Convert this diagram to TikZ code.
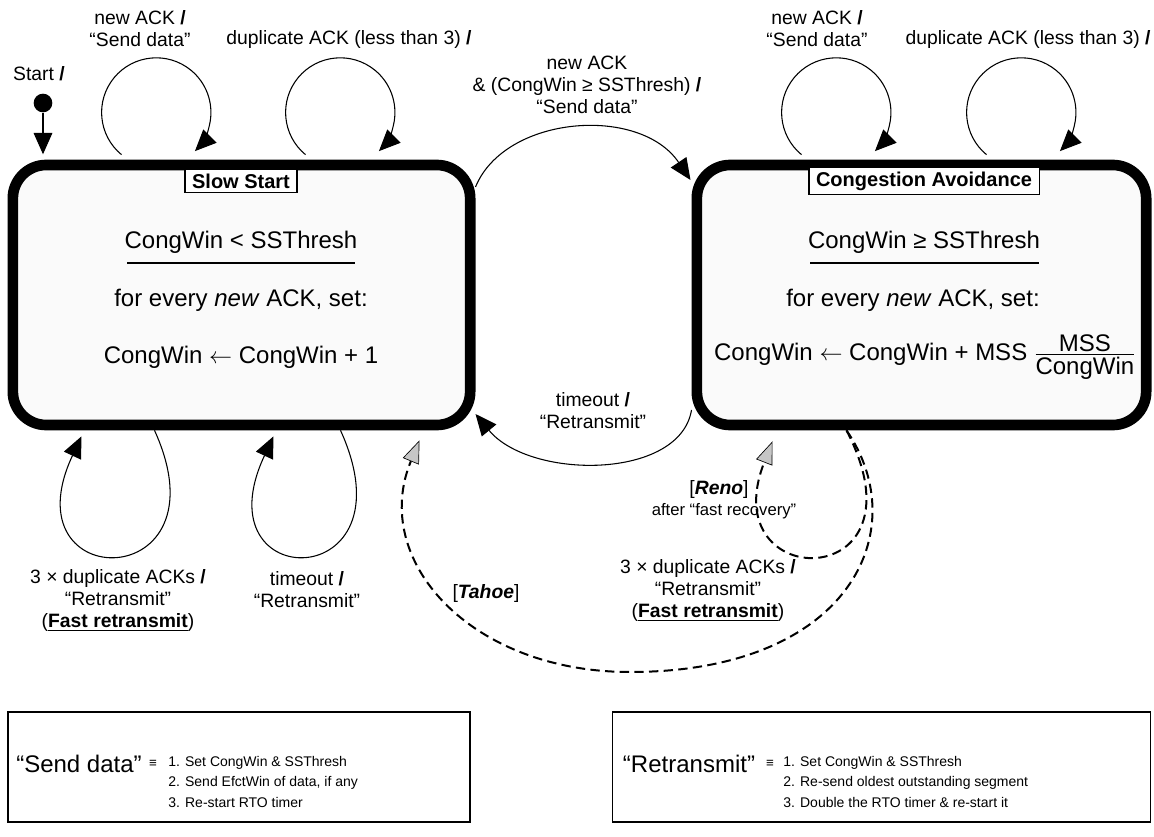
\documentclass[tikz,border=0pt]{standalone}
\usepackage{amsmath}
\usepackage{fontspec}
\setmainfont{Liberation Sans}
\usetikzlibrary{arrows.meta}

\begin{document}
\begin{tikzpicture}[x=0.75pt,y=-0.75pt,
  state/.style={draw,line width=8pt,rounded corners=25pt,fill=gray!4,minimum height=195pt,inner sep=0pt},
  title/.style={draw,fill=white,line width=1.2pt,inner xsep=5.5pt,inner ysep=3pt,font=\fontsize{15}{17}\selectfont\bfseries},
  big/.style={inner sep=1pt,font=\fontsize{18}{21}\selectfont},
  lbl/.style={align=center,inner sep=1pt,font=\fontsize{14.5}{16.5}\selectfont},
  trans/.style={line width=0.8pt,-{Triangle[length=16pt,width=14pt]}},
  alt/.style={line width=1.5pt,dash pattern=on 7pt off 4pt,-{Triangle[length=17pt,width=13pt,fill=gray!45,line width=0.5pt]}},
  note/.style={draw,line width=0.8pt,minimum height=82.5pt},
  small/.style={align=left,inner sep=0pt,font=\fontsize{10.5}{15.4}\selectfont}]
\useasboundingbox (0,0) rectangle (1154,837);

\node[state,minimum width=343pt] (ss) at (241.5,295) {};
\node[state,minimum width=337pt] (ca) at (921.5,295) {};

\node[title] (ssname) at (241,181) {Slow Start};
\node[big] (sscond) at (241,242) {CongWin < SSThresh};
\draw[line width=1.5pt] (127,263) -- (355,263);
\node[big] (ssfor) at (241,300) {for every \textit{new} ACK, set:};
\node[big] (ssupd) at (241,357) {CongWin $\leftarrow$ CongWin + 1};

\node[title] (caname) at (924,181) {Congestion Avoidance};
\node[big] (cacond) at (924,242) {CongWin ≥ SSThresh};
\draw[line width=1.5pt] (810,263) -- (1039,263);
\node[big] (cafor) at (913,300) {for every \textit{new} ACK, set:};
\node[big] (caupd) at (925,357) {CongWin $\leftarrow$ CongWin + MSS $\genfrac{}{}{1.2pt}{1}{\mbox{MSS}}{\mbox{CongWin}}$};

\node[circle,fill,inner sep=0pt,minimum size=14pt] (start) at (43,103) {};
\node[lbl] (startlbl) at (39,74) {Start \textbf{/}};
\draw[trans,shorten >=4pt] (start) -- (start |- ss.north);

\draw[trans] ([shift={(-120,-5)}]ss.north) arc[start angle=230.5,end angle=-45,radius=41pt];
\draw[trans] ([shift={(64,-5)}]ss.north) arc[start angle=230.5,end angle=-45,radius=41pt];
\draw[trans] ([shift={(-120,-5)}]ca.north) arc[start angle=230.5,end angle=-45,radius=41pt];
\draw[trans] ([shift={(65,-5)}]ca.north) arc[start angle=230.5,end angle=-45,radius=41pt];
\node[lbl] (l1lbl) at (140,29) {new ACK \textbf{/}\\“Send data”};
\node[lbl] (l2lbl) at (349,40) {duplicate ACK (less than 3) \textbf{/}};
\node[lbl] (r1lbl) at (817,29) {new ACK \textbf{/}\\“Send data”};
\node[lbl] (r2lbl) at (1028,40) {duplicate ACK (less than 3) \textbf{/}};

\draw[trans] ([shift={(0,-108)}]ss.east) .. controls (505,115) and (640,105) .. ([shift={(-1,-115)}]ca.west);
\node[lbl] (nacklbl) at (587,85) {new ACK\\\& (CongWin ≥ SSThresh) \textbf{/}\\“Send data”};

\draw[trans] ([shift={(0,115)}]ca.west) .. controls (680,480) and (530,480) .. ([shift={(0,119)}]ss.east);
\node[lbl] (tolbl) at (593,411) {timeout \textbf{/}\\“Retransmit”};

\draw[trans] ([shift={(-87,0)}]ss.south) .. controls +(75,165) and +(-75,160) .. ([shift={(-160,6)}]ss.south);
\draw[trans] ([shift={(99,0)}]ss.south) .. controls +(75,165) and +(-75,160) .. ([shift={(32,6)}]ss.south);
\node[lbl] (bl1lbl) at (118,601) {3 × duplicate ACKs \textbf{/}\\“Retransmit”\\(\underline{\textbf{Fast retransmit}})};
\node[lbl] (bl2lbl) at (307,590) {timeout \textbf{/}\\“Retransmit”};

\draw[alt] ([shift={(-75,0)}]ca.south) .. controls (915,530) and (850,672) .. (630,672) .. controls (470,672) and (370,560) .. ([shift={(178,10)}]ss.south);
\draw[alt] ([shift={(-75,0)}]ca.south) .. controls (932,595) and (712,595) .. ([shift={(-149,11)}]ca.south);
\node[lbl] (renolbl) at (719,490) {[\textbf{\textit{Reno}}]};
\node[inner sep=1pt,font=\fontsize{12.5}{14}\selectfont] (renonote) at (724,511) {after “fast recovery”};
\node[lbl] (frlbl) at (708,591) {3 × duplicate ACKs \textbf{/}\\“Retransmit”\\(\underline{\textbf{Fast retransmit}})};
\node[lbl] (tahoelbl) at (486,594) {[\textbf{\textit{Tahoe}}]};

\node[note,minimum width=346.5pt] (sdnote) at (239,767) {};
\node[note,minimum width=404pt] (rtnote) at (881.5,767) {};
\node[inner sep=0pt,font=\fontsize{18}{20}\selectfont] (sdname) at (79,764) {“Send data”};
\node[inner sep=0pt,font=\fontsize{10}{12}\selectfont] (sdeq) at (153,764) {≡};
\node[small,anchor=north west] (sdlist) at (168,756) {1. Set CongWin \& SSThresh\\2. Send EfctWin of data, if any\\3. Re-start RTO timer};
\node[inner sep=0pt,font=\fontsize{18}{20}\selectfont] (rtname) at (689,764) {“Retransmit”};
\node[inner sep=0pt,font=\fontsize{10}{12}\selectfont] (rteq) at (770,764) {≡};
\node[small,anchor=north west] (rtlist) at (783,756) {1. Set CongWin \& SSThresh\\2. Re-send oldest outstanding segment\\3. Double the RTO timer \& re-start it};
\end{tikzpicture}
\end{document}
